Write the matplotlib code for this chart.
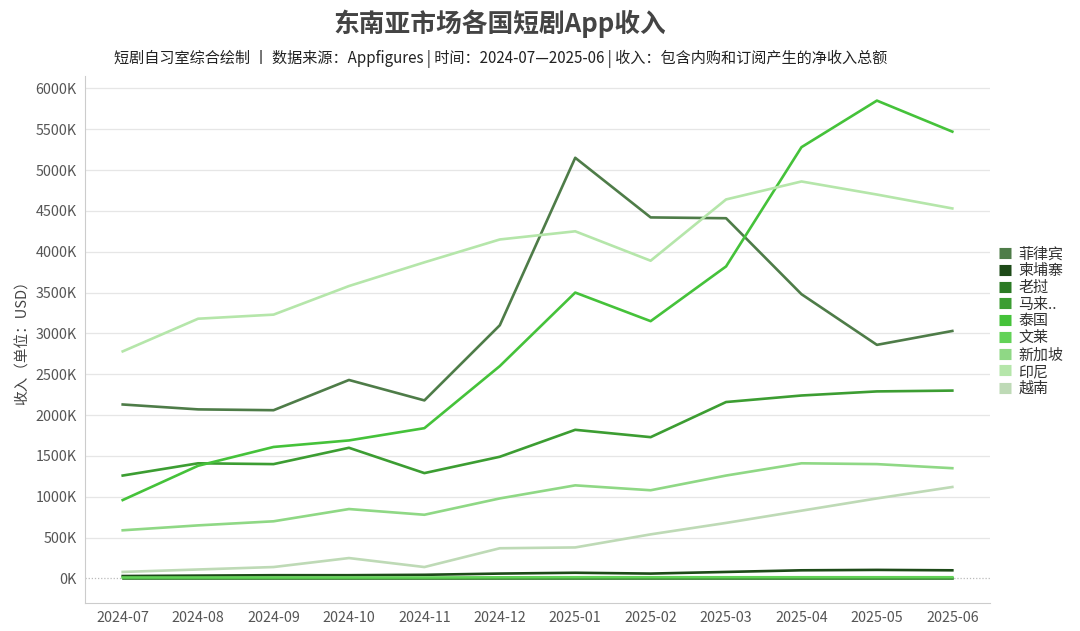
import matplotlib
matplotlib.use('Agg')
import matplotlib.pyplot as plt
import numpy as np

plt.rcParams['font.family'] = ['Noto Sans CJK SC', 'DejaVu Sans']

# 月份
months = ['2024-07', '2024-08', '2024-09', '2024-10', '2024-11', '2024-12',
          '2025-01', '2025-02', '2025-03', '2025-04', '2025-05', '2025-06']

# 各国收入（单位：千美元）
philippines = [2130, 2070, 2060, 2430, 2180, 3100, 5150, 4420, 4410, 3480, 2860, 3030]
cambodia = [30, 35, 40, 40, 45, 60, 70, 60, 80, 100, 105, 100]
laos = [5, 5, 5, 5, 5, 5, 5, 5, 5, 5, 5, 5]
malaysia = [1260, 1410, 1400, 1600, 1290, 1490, 1820, 1730, 2160, 2240, 2290, 2300]
thailand = [960, 1380, 1610, 1690, 1840, 2600, 3500, 3150, 3820, 5280, 5850, 5470]
brunei = [12, 12, 12, 12, 12, 14, 15, 15, 15, 15, 15, 15]
singapore = [590, 650, 700, 850, 780, 980, 1140, 1080, 1260, 1410, 1400, 1350]
indonesia = [2780, 3180, 3230, 3580, 3870, 4150, 4250, 3890, 4640, 4860, 4700, 4530]
vietnam = [80, 110, 140, 250, 140, 370, 380, 540, 680, 830, 980, 1120]

names = ['菲律宾', '柬埔寨', '老挝', '马来..', '泰国', '文莱', '新加坡', '印尼', '越南']
series = [philippines, cambodia, laos, malaysia, thailand, brunei, singapore, indonesia, vietnam]
colors = ['#4e7c48', '#1d4a18', '#2b7a24', '#3c9d32', '#45c23a', '#62d257',
          '#8fd885', '#b5e6aa', '#bedab6']

fig = plt.figure(figsize=(10.8, 6.31), dpi=100)
ax = fig.add_axes([0.0787, 0.0444, 0.838, 0.835])

x = np.arange(len(months))
for name, vals, c in zip(names, series, colors):
    ax.plot(x, vals, color=c, lw=1.9, label=name, zorder=3)

ax.set_xlim(-0.5, 11.5)
ax.set_ylim(-300, 6150)
yt = np.arange(0, 6001, 500)
ax.set_yticks(yt)
ax.set_yticklabels([f'{v}K' for v in yt])
ax.set_xticks(x)
ax.set_xticklabels(months)
ax.tick_params(axis='both', labelsize=10.3, colors='#555555', length=0, pad=6)

for v in yt[1:]:
    ax.axhline(v, color='#e6e6e6', lw=0.9, zorder=1)
ax.axhline(0, color='#bbbbbb', lw=0.9, ls=(0, (1, 1.5)), zorder=1)

for s in ['top', 'right']:
    ax.spines[s].set_visible(False)
for s in ['left', 'bottom']:
    ax.spines[s].set_color('#cccccc')

ax.set_ylabel('收入（单位：USD）', fontsize=10.5, color='#444444', labelpad=4)

fig.text(0.463, 0.962, '东南亚市场各国短剧App收入', ha='center', va='center',
         fontsize=18.5, fontweight='bold', color='#444444')
fig.text(0.464, 0.906, '短剧自习室综合绘制 丨 数据来源：Appfigures | 时间：2024-07—2025-06 | 收入：包含内购和订阅产生的净收入总额',
         ha='center', va='center', fontsize=10.9, color='#222222')

leg = ax.legend(loc='center left', bbox_to_anchor=(0.995, 0.534), frameon=False,
                handlelength=0.8, handleheight=0.8, handletextpad=0.5,
                labelspacing=0.18, fontsize=10.8, labelcolor='#333333')
for h in leg.legend_handles:
    h.set_linewidth(8)
    h.set_solid_capstyle('butt')

fig.savefig('out.png', dpi=100)
